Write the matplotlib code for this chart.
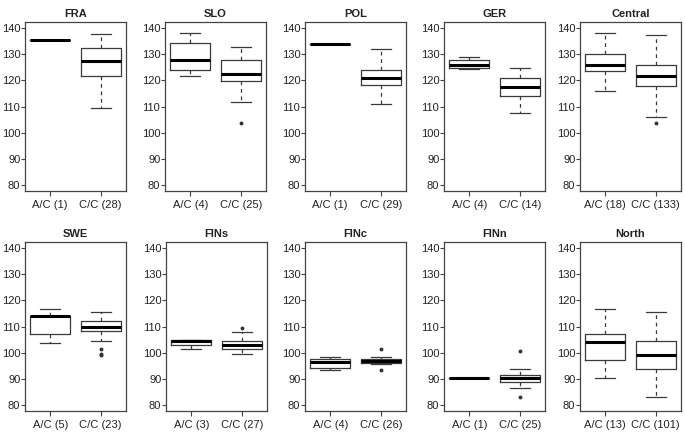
import matplotlib
matplotlib.use("Agg")
import matplotlib.pyplot as plt

plt.rcParams['font.family'] = ['Liberation Sans', 'DejaVu Sans']

regions = ["FRA", "SLO", "POL", "GER", "Central", "SWE", "FINs", "FINc", "FINn", "North"]
n_ac = [1, 4, 1, 4, 18, 5, 3, 4, 1, 13]
n_cc = [28, 25, 29, 14, 133, 23, 27, 26, 25, 101]

# A/C group statistics
ac_lo  = [135.6, 121.8, 133.9, 124.2, 116.0, 103.7, 101.5, 93.2, 90.4, 90.4]
ac_q1  = [135.6, 123.9, 133.9, 124.8, 123.5, 107.3, 102.8, 93.9, 90.4, 97.0]
ac_med = [135.6, 127.9, 133.9, 126.1, 126.1, 113.9, 104.5, 96.3, 90.4, 104.0]
ac_q3  = [135.6, 134.4, 133.9, 127.7, 130.2, 114.2, 104.9, 97.5, 90.4, 107.1]
ac_hi  = [135.6, 138.2, 133.9, 129.0, 138.3, 116.6, 104.9, 98.4, 90.4, 116.6]
ac_fl  = [[], [], [], [], [], [], [], [], [], []]

# C/C group statistics
cc_lo  = [109.3, 111.7, 111.0, 107.6, 106.0, 104.6, 99.3, 95.6, 86.4, 83.0]
cc_q1  = [121.6, 119.7, 118.2, 114.2, 117.8, 108.1, 101.5, 96.1, 88.7, 93.8]
cc_med = [127.6, 122.6, 120.9, 117.4, 121.6, 109.9, 102.9, 96.8, 90.1, 99.1]
cc_q3  = [132.3, 127.7, 123.9, 121.1, 125.8, 112.0, 104.6, 97.5, 91.3, 104.6]
cc_hi  = [137.7, 133.0, 132.2, 124.8, 137.3, 115.6, 107.8, 98.4, 93.8, 115.6]
cc_fl  = [[], [103.6], [], [], [103.5], [101.3, 99.6, 99.2], [109.4], [101.2, 93.2], [100.5, 83.0], []]

yticks = [80, 90, 100, 110, 120, 130, 140]

W, H = 685, 433
fig = plt.figure(figsize=(W / 100, H / 100), dpi=100)

lefts_top = [25, 165, 305, 444, 580]
lefts_bot = [25, 166, 305, 444, 580]
pw = 101
rows = [(22, 191), (242, 411)]

edge = '#3a3a3a'
for i, name in enumerate(regions):
    r = i // 5
    c = i % 5
    left = (lefts_top if r == 0 else lefts_bot)[c]
    top, bot = rows[r]
    ax = fig.add_axes([left / W, 1 - bot / H, pw / W, (bot - top) / H])
    stats = [
        dict(med=ac_med[i], q1=ac_q1[i], q3=ac_q3[i], whislo=ac_lo[i], whishi=ac_hi[i], fliers=ac_fl[i]),
        dict(med=cc_med[i], q1=cc_q1[i], q3=cc_q3[i], whislo=cc_lo[i], whishi=cc_hi[i], fliers=cc_fl[i]),
    ]
    ax.bxp(stats, positions=[1, 2], widths=0.8, showfliers=True,
           boxprops=dict(color=edge, linewidth=0.9),
           medianprops=dict(color='black', linewidth=2.2, solid_capstyle='butt'),
           whiskerprops=dict(color=edge, linewidth=0.9, linestyle=(0, (3, 3))),
           capprops=dict(color=edge, linewidth=0.9),
           capwidths=0.4,
           flierprops=dict(marker='o', markersize=1.8, markerfacecolor='#333333',
                           markeredgecolor='#333333', linestyle='none'))
    ax.set_xlim(0.5, 2.5)
    ax.set_ylim(77.6, 142.4)
    ax.set_yticks(yticks)
    ax.set_yticklabels([str(t) for t in yticks], fontsize=8, color='#222222')
    ax.set_xticks([1, 2])
    ax.set_xticklabels([f"A/C ({n_ac[i]})", f"C/C ({n_cc[i]})"], fontsize=8, color='#222222')
    ax.tick_params(axis='y', direction='out', length=2.6, width=0.8, color='#444444', pad=0.8)
    ax.tick_params(axis='x', direction='out', length=3.6, width=0.8, color='#444444', pad=3.0)
    for s in ax.spines.values():
        s.set_color('#444444')
        s.set_linewidth(0.9)
    ax.set_title(name, fontsize=8, fontweight='bold', pad=3.5, color='#222222')

fig.savefig("out.png", dpi=100)
